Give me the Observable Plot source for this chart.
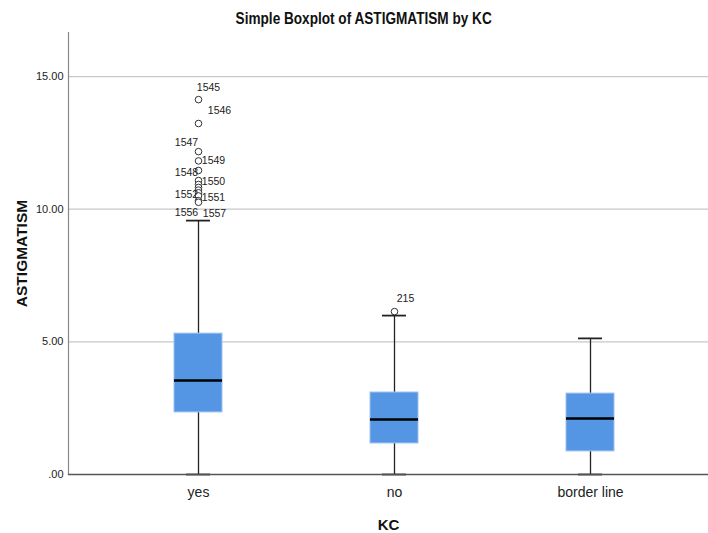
<!DOCTYPE html>
<html>
<head>
<meta charset="utf-8">
<script src="https://cdn.jsdelivr.net/npm/d3@7"></script>
<script src="https://cdn.jsdelivr.net/npm/@observablehq/plot@0.6"></script>
<style>
  body { margin: 0; background: #fff; }
  #title { height: 32px; width: 708px; text-align: center; font-family: "Liberation Sans", Arial, sans-serif; font-weight: bold; font-size: 16px; line-height: 38px; padding-left: 20px; box-sizing: border-box; color: #111; }
  #title span { display: inline-block; transform: scaleX(0.85); }
</style>
</head>
<body>
<div id="title"><span>Simple Boxplot of ASTIGMATISM by KC</span></div>
<div id="chart"></div>
<script>
const categories = ["yes", "no", "border line"];
const minV   = [0, 0, 0];
const q1     = [2.34, 1.17, 0.87];
const median = [3.54, 2.07, 2.11];
const q3     = [5.31, 3.09, 3.05];
const maxV   = [9.57, 5.99, 5.13];

const outlierCat   = ["yes","yes","yes","yes","yes","yes","yes","yes","yes","yes","yes","yes","yes","no"];
const outlierValue = [14.13, 13.23, 12.17, 11.82, 11.46, 11.08, 10.93, 10.82, 10.72, 10.62, 10.50, 10.32, 10.26, 6.14];
const outlierId    = ["1545","1546","1547","1549","1548","1550","1551","1552","","","","1556","1557","215"];

const yTicks = [0, 5, 10, 15];

// label placement (style offsets, pixels)
const labelOffset = {
  "1545": [10, -12], "1546": [21, -13], "1547": [-12, -9], "1549": [15, 0],
  "1548": [-12, 2], "1550": [15, 1], "1551": [15, 13], "1552": [-12, 7],
  "1556": [-12, 12], "1557": [16, 11], "215": [11, -13]
};

const boxes = categories.map((c, i) => ({cat: c, min: minV[i], q1: q1[i], med: median[i], q3: q3[i], max: maxV[i]}));
const outliers = outlierValue.map((v, i) => ({cat: outlierCat[i], value: v, id: outlierId[i]}));
const labels = outliers.filter(d => d.id !== "");

const font = "'Liberation Sans', Arial, sans-serif";
const fmt = v => d3.format(".2f")(v).replace(/^0\./, ".");

const chart = Plot.plot({
  width: 708,
  height: 501,
  marginLeft: 68,
  marginRight: 0,
  marginTop: 0,
  marginBottom: 59,
  style: {fontFamily: font, background: "#fff", color: "#222"},
  x: {type: "band", domain: categories, range: [100, 688], paddingInner: 0.755, paddingOuter: 0.3775, align: 0.5, label: null},
  y: {domain: [0, 16.66], label: null},
  marks: [
    Plot.ruleY(yTicks.filter(t => t > 0), {stroke: "#c8c8c8", strokeWidth: 1.2}),
    Plot.axisY(yTicks, {tickSize: 0, tickPadding: 5, tickFormat: fmt, fontSize: 11, label: null, fill: "#222"}),
    Plot.axisX({tickSize: 0, tickPadding: 13, fontSize: 14, label: null, fill: "#222"}),
    Plot.frame({anchor: "left", stroke: "#888", strokeWidth: 1.2}),
    // whiskers
    Plot.ruleX(boxes, {x: "cat", y1: "q3", y2: "max", stroke: "#222", strokeWidth: 1.3}),
    Plot.ruleX(boxes, {x: "cat", y1: "min", y2: "q1", stroke: "#222", strokeWidth: 1.3}),
    Plot.tickY(boxes, {x: "cat", y: "max", stroke: "#222", strokeWidth: 1.8, insetLeft: 12, insetRight: 12}),
    Plot.tickY(boxes, {x: "cat", y: "min", stroke: "#222", strokeWidth: 1.8, insetLeft: 12, insetRight: 12}),
    // boxes
    Plot.barY(boxes, {x: "cat", y1: "q1", y2: "q3", fill: "#5596e4", stroke: "#9cc2f0", strokeWidth: 1}),
    Plot.tickY(boxes, {x: "cat", y: "med", stroke: "#000", strokeWidth: 2.5}),
    Plot.ruleY([0], {stroke: "#555", strokeWidth: 1.3}),
    // outliers
    Plot.dot(outliers, {x: "cat", y: "value", r: 3.3, stroke: "#333", strokeWidth: 1, fill: "#fff"}),
    Plot.text(labels, {x: "cat", y: "value", text: "id", fontSize: 10.5, fill: "#222",
      render(index, scales, values, dimensions, context, next) {
        const g = next(index, scales, values, dimensions, context);
        d3.select(g).selectAll("text").each(function(_, j) {
          const i = index[j];
          const [dx, dy] = labelOffset[labels[i].id] || [0, 0];
          this.setAttribute("transform", `translate(${values.x[i] + dx},${values.y[i] + dy})`);
        });
        return g;
      }
    }),
    // axis titles
    Plot.text(["ASTIGMATISM"], {frameAnchor: "left", textAnchor: "middle", dx: -46, rotate: -90, fontSize: 15.5, fontWeight: "bold", fill: "#111"}),
    Plot.text(["KC"], {frameAnchor: "bottom", dy: 55, fontSize: 15, fontWeight: "bold", fill: "#111"})
  ]
});
document.getElementById("chart").appendChild(chart);
</script>
</body>
</html>
